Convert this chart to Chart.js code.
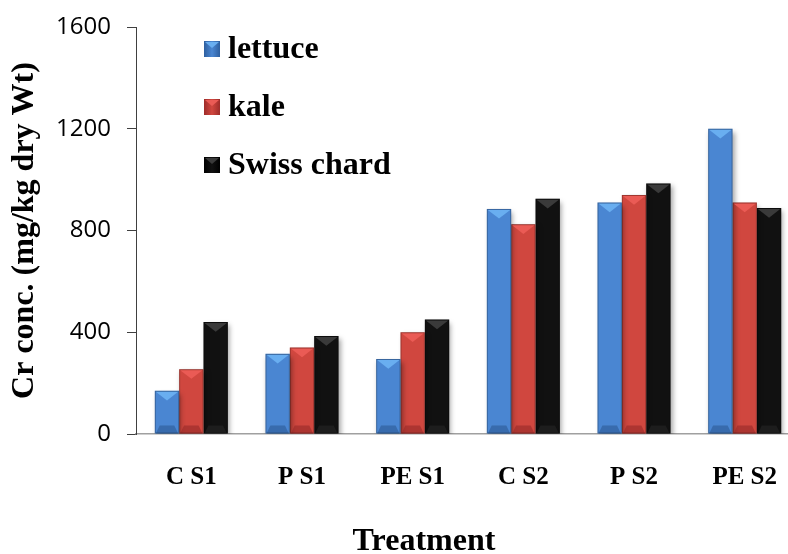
<!DOCTYPE html>
<html>
<head>
<meta charset="utf-8">
<script src="https://cdn.jsdelivr.net/npm/chart.js@4/dist/chart.umd.min.js"></script>
<style>
  html, body { margin: 0; padding: 0; background: #fff; overflow: hidden; }
  #wrap { position: relative; width: 806px; height: 554px; }
</style>
</head>
<body>
<div id="wrap"><canvas id="c"></canvas></div>
<script>
// Cr concentration in leafy vegetables by treatment
const treatments = ['C S1', 'P S1', 'PE S1', 'C S2', 'P S2', 'PE S2'];
const lettuce = [170, 315, 295, 885, 910, 1200];
const kale = [255, 340, 400, 825, 940, 910];
const swissChard = [440, 385, 450, 925, 985, 888];
const yTicks = [0, 400, 800, 1200, 1600];
const xTitle = 'Treatment';
const yTitle = 'Cr conc. (mg/kg dry Wt)';

const serif = '"Liberation Serif", "Times New Roman", serif';

// base, edge (darker) and top-bevel colours for each crop
const palette = {
  lettuce: { mid: '#4a86d2', edge: '#2e5f9f', top: '#69aef0', bottom: '#2d5a94' },
  kale:    { mid: '#d0473f', edge: '#9e2c2a', top: '#ea5b55', bottom: '#962a28' },
  chard:   { mid: '#111111', edge: '#000000', top: '#3a3a3a', bottom: '#262626' }
};

function barFill(p) {
  return function (ctx) {
    const el = ctx.element;
    const chart = ctx.chart;
    if (!el || !chart.chartArea || el.width === undefined || isNaN(el.x)) return p.mid;
    const half = el.width / 2;
    const g = chart.ctx.createLinearGradient(el.x - half, 0, el.x + half, 0);
    g.addColorStop(0, p.edge);
    g.addColorStop(0.35, p.mid);
    g.addColorStop(0.65, p.mid);
    g.addColorStop(1, p.edge);
    return g;
  };
}

// soft drop shadow under the bars
const barShadow = {
  id: 'barShadow',
  beforeDatasetsDraw(chart) {
    const ctx = chart.ctx;
    ctx.save();
    ctx.shadowColor = 'rgba(0,0,0,0.35)';
    ctx.shadowBlur = 5;
    ctx.shadowOffsetX = 2;
    ctx.shadowOffsetY = 3;
  },
  afterDatasetsDraw(chart) {
    chart.ctx.restore();
  }
};

// bevelled caps on top and bottom of each bar
const barBevel = {
  id: 'barBevel',
  afterDatasetsDraw(chart) {
    const ctx = chart.ctx;
    chart.data.datasets.forEach((ds, i) => {
      const meta = chart.getDatasetMeta(i);
      const p = ds.bevel;
      meta.data.forEach(bar => {
        const { x, y, base, width } = bar.getProps(['x', 'y', 'base', 'width'], true);
        const l = x - width / 2, r = x + width / 2;
        const d = Math.min(width * 0.4, (base - y) / 2);
        ctx.save();
        ctx.fillStyle = p.top;
        ctx.beginPath();
        ctx.moveTo(l + 1, y + 1);
        ctx.lineTo(r - 1, y + 1);
        ctx.lineTo(x, y + d);
        ctx.closePath();
        ctx.fill();
        ctx.globalAlpha = 0.6;
        ctx.fillStyle = p.bottom;
        ctx.beginPath();
        ctx.moveTo(l + 1, base);
        ctx.lineTo(r - 1, base);
        ctx.lineTo(x + width * 0.3, base - 8);
        ctx.lineTo(x - width * 0.3, base - 8);
        ctx.closePath();
        ctx.fill();
        ctx.restore();
        ctx.save();
        ctx.strokeStyle = 'rgba(0,0,0,0.25)';
        ctx.lineWidth = 1;
        ctx.strokeRect(l + 0.5, y + 0.5, width - 1, base - y - 1);
        ctx.restore();
      });
    });
  }
};

// stacked legend inside the plot area
const innerLegend = {
  id: 'innerLegend',
  afterDraw(chart) {
    const ctx = chart.ctx;
    const left = 204, top = 49, gap = 58, box = 16;
    ctx.save();
    ctx.font = 'bold 32px ' + serif;
    ctx.textBaseline = 'middle';
    ctx.textAlign = 'left';
    chart.data.datasets.forEach((ds, i) => {
      const cy = top + i * gap;
      const p = ds.bevel;
      const g = ctx.createLinearGradient(left, 0, left + box, 0);
      g.addColorStop(0, p.edge);
      g.addColorStop(0.5, p.mid);
      g.addColorStop(1, p.edge);
      ctx.fillStyle = g;
      ctx.fillRect(left, cy - box / 2, box, box);
      ctx.fillStyle = p.top;
      ctx.beginPath();
      ctx.moveTo(left + 1, cy - box / 2 + 1);
      ctx.lineTo(left + box - 1, cy - box / 2 + 1);
      ctx.lineTo(left + box / 2, cy - 1);
      ctx.closePath();
      ctx.fill();
      ctx.fillStyle = '#000';
      ctx.fillText(ds.label, left + 24, cy + 1);
    });
    ctx.restore();
  }
};

// x-axis title, set left of the plot centre
const xAxisTitle = {
  id: 'xAxisTitle',
  afterDraw(chart) {
    const ctx = chart.ctx;
    ctx.save();
    ctx.font = 'bold 32px ' + serif;
    ctx.fillStyle = '#000';
    ctx.textAlign = 'center';
    ctx.textBaseline = 'alphabetic';
    ctx.fillText(xTitle, 424, 550);
    ctx.restore();
  }
};

new Chart(document.getElementById('c'), {
  type: 'bar',
  data: {
    labels: treatments,
    datasets: [
      { label: 'lettuce', data: lettuce, backgroundColor: barFill(palette.lettuce), bevel: palette.lettuce },
      { label: 'kale', data: kale, backgroundColor: barFill(palette.kale), bevel: palette.kale },
      { label: 'Swiss chard', data: swissChard, backgroundColor: barFill(palette.chard), bevel: palette.chard }
    ]
  },
  options: {
    responsive: true,
    maintainAspectRatio: false,
    animation: false,
    layout: { padding: { top: 27, right: 0, bottom: 0, left: 0 } },
    datasets: { bar: { barPercentage: 1.0, categoryPercentage: 0.66 } },
    plugins: {
      legend: { display: false },
      tooltip: { enabled: false }
    },
    scales: {
      x: {
        grid: { display: false, drawTicks: false },
        border: { display: true, color: '#a0a0a0', width: 1.5 },
        ticks: {
          color: '#000',
          padding: 29,
          font: { family: serif, size: 25, weight: 'bold' }
        },
        afterFit(scale) { scale.height = 120; }
      },
      y: {
        min: 0,
        max: 1600,
        afterBuildTicks(scale) { scale.ticks = yTicks.map(v => ({ value: v })); },
        grid: { drawOnChartArea: false, drawTicks: true, tickLength: 9, color: '#404040', lineWidth: 1 },
        border: { display: true, color: '#404040', width: 1 },
        ticks: {
          color: '#000',
          padding: 16,
          callback: v => String(v),
          font: { family: '"Open Sans", sans-serif', size: 24, lineHeight: 1 }
        },
        title: {
          display: true,
          text: yTitle,
          color: '#000',
          padding: { top: 6, bottom: 0 },
          font: { family: serif, size: 32, weight: 'bold' }
        },
        afterFit(scale) {
          scale.width = 136;
          scale.paddingTop = 0;
        }
      }
    }
  },
  plugins: [barShadow, barBevel, innerLegend, xAxisTitle]
});
</script>
</body>
</html>
